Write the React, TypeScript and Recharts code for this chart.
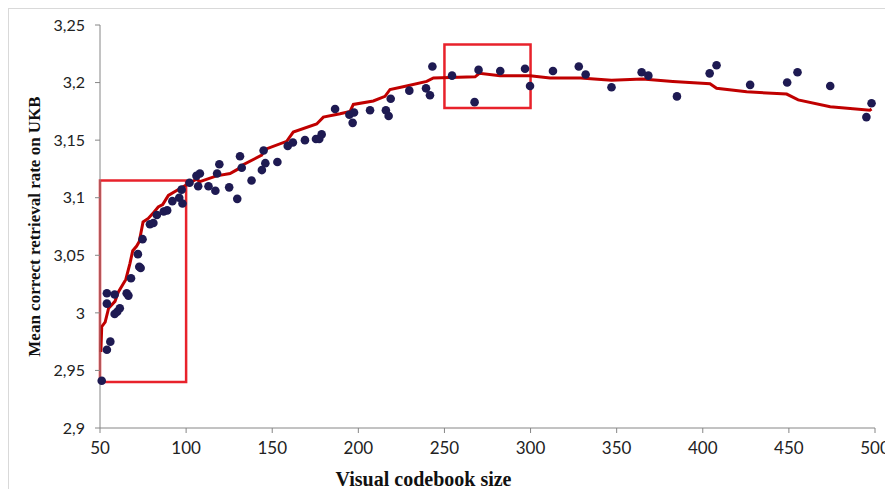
import {
  ComposedChart,
  Scatter,
  Line,
  XAxis,
  YAxis,
  ReferenceArea,
} from 'recharts'

// Measured retrieval rate per codebook size
const sizes = [
  51, 54, 56, 54, 54, 58.5, 58.5, 60, 61.5, 65.5, 66.5, 68, 72, 72.8, 73.6, 74.7,
  79, 81, 83, 87, 89, 92, 96, 97.9, 97.4, 102, 106, 108, 107, 113, 117, 118,
  119.3, 125, 129.7, 131.3, 132.3, 138, 144, 145, 146, 153, 159, 162, 169, 175.4,
  177.3, 178.7, 186.5, 194.8, 197.5, 196.7, 206.8, 216, 217.6, 218.8, 229.6, 239.3,
  241.6, 243, 254.4, 267.5, 269.8, 282.4, 296.8, 299.7, 313, 328, 332, 347, 364.5,
  368.4, 385, 404, 408, 427.5, 449, 455, 474, 495, 498,
]
const rates = [
  2.941, 2.968, 2.975, 3.008, 3.017, 3.016, 2.999, 3.001, 3.004, 3.017, 3.015, 3.03,
  3.051, 3.04, 3.039, 3.064, 3.077, 3.078, 3.085, 3.088, 3.089, 3.097, 3.1, 3.095,
  3.107, 3.113, 3.119, 3.121, 3.11, 3.11, 3.106, 3.121, 3.129, 3.109, 3.099, 3.136,
  3.126, 3.115, 3.124, 3.141, 3.13, 3.131, 3.145, 3.148, 3.15, 3.151, 3.151, 3.155,
  3.177, 3.172, 3.174, 3.165, 3.176, 3.176, 3.171, 3.186, 3.193, 3.195, 3.189, 3.214,
  3.206, 3.183, 3.211, 3.21, 3.212, 3.197, 3.21, 3.214, 3.207, 3.196, 3.209, 3.206,
  3.188, 3.208, 3.215, 3.198, 3.2, 3.209, 3.197, 3.17, 3.182,
]

// Smoothed trend
const trendSizes = [
  50.5, 51, 53, 55, 58.7, 60.6, 65, 67.4, 69, 71.3, 72.8, 75, 78, 80.5, 83.8, 86.4,
  89.7, 96.5, 102.3, 106, 108, 117.7, 125.5, 130.3, 132.3, 143.9, 145.8, 158.4, 162.2,
  175.8, 179.7, 189.4, 195.2, 197.1, 208.7, 215.5, 218.4, 228, 239.7, 243.6, 267.8,
  270.3, 282.3, 299.7, 311.3, 329, 347, 365, 382.6, 404.2, 408, 425.5, 448.7, 455.4,
  474, 497, 498,
]
const trendRates = [
  2.966, 2.988, 2.992, 3.004, 3.01, 3.018, 3.029, 3.043, 3.054, 3.058, 3.062, 3.079,
  3.082, 3.086, 3.092, 3.094, 3.102, 3.108, 3.113, 3.116, 3.114, 3.119, 3.121, 3.125,
  3.128, 3.137, 3.142, 3.149, 3.157, 3.164, 3.17, 3.173, 3.175, 3.181, 3.184, 3.188,
  3.194, 3.197, 3.201, 3.204, 3.205, 3.208, 3.206, 3.206, 3.204, 3.204, 3.202, 3.203,
  3.201, 3.199, 3.195, 3.192, 3.19, 3.185, 3.179, 3.176, 3.177,
]

const xTicks = [50, 100, 150, 200, 250, 300, 350, 400, 450, 500]
const yTicks = [2.9, 2.95, 3, 3.05, 3.1, 3.15, 3.2, 3.25]

// Highlighted regions: [x1, x2, y1, y2]
const boxes = [
  [50, 100, 2.94, 3.115],
  [250, 300, 3.178, 3.233],
]

const points = sizes.map((x, i) => ({ x, y: rates[i] }))
const trend = trendSizes.map((x, i) => ({ x, y: trendRates[i] }))

const AXIS = '#868686'

const Dot = (props: any) => (
  <circle cx={props.cx} cy={props.cy} r={4.3} fill="#1e1a52" />
)

export default function App() {
  return (
    <div
      style={{
        width: 884,
        height: 480,
        overflow: 'hidden',
        borderTop: '1px solid #d9d9d9',
        borderLeft: '1px solid #d9d9d9',
      }}
    >
      <style>{'.recharts-surface { overflow: visible; }'}</style>
      <ComposedChart
        width={884}
        height={480}
        margin={{ top: 16, right: 18, bottom: 3, left: 0 }}
      >
        <XAxis
          type="number"
          dataKey="x"
          domain={[50, 500]}
          ticks={xTicks}
          interval={0}
          height={58}
          tickSize={5}
          tickMargin={9}
          stroke={AXIS}
          tick={{ fill: '#222', fontFamily: 'Lato', fontSize: 17 }}
          label={{
            value: 'Visual codebook size',
            position: 'insideBottom',
            offset: 0,
            dx: -64,
            style: {
              fontFamily: 'Liberation Serif',
              fontWeight: 'bold',
              fontSize: 20,
              fill: '#111',
            },
          }}
        />
        <YAxis
          type="number"
          dataKey="y"
          domain={[2.9, 3.25]}
          ticks={yTicks}
          interval={0}
          width={91}
          tickSize={5}
          tickMargin={10}
          stroke={AXIS}
          tick={{ fill: '#222', fontFamily: 'Lato', fontSize: 16 }}
          tickFormatter={(v: number) => String(v).replace('.', ',')}
          label={{
            value: 'Mean correct retrieval rate on UKB',
            angle: -90,
            position: 'insideLeft',
            offset: 25,
            style: {
              textAnchor: 'middle',
              fontFamily: 'Liberation Serif',
              fontWeight: 'bold',
              fontSize: 17,
              fill: '#111',
            },
          }}
        />
        <Scatter
          data={points}
          dataKey="y"
          shape={Dot}
          isAnimationActive={false}
        />
        <Line
          data={trend}
          dataKey="y"
          type="linear"
          stroke="#c00000"
          strokeWidth={3}
          dot={false}
          activeDot={false}
          isAnimationActive={false}
        />
        {boxes.map(([x1, x2, y1, y2], i) => (
          <ReferenceArea
            key={i}
            x1={x1}
            x2={x2}
            y1={y1}
            y2={y2}
            fill="none"
            fillOpacity={0}
            stroke="#e8222b"
            strokeWidth={2.5}
            ifOverflow="visible"
          />
        ))}
      </ComposedChart>
    </div>
  )
}
